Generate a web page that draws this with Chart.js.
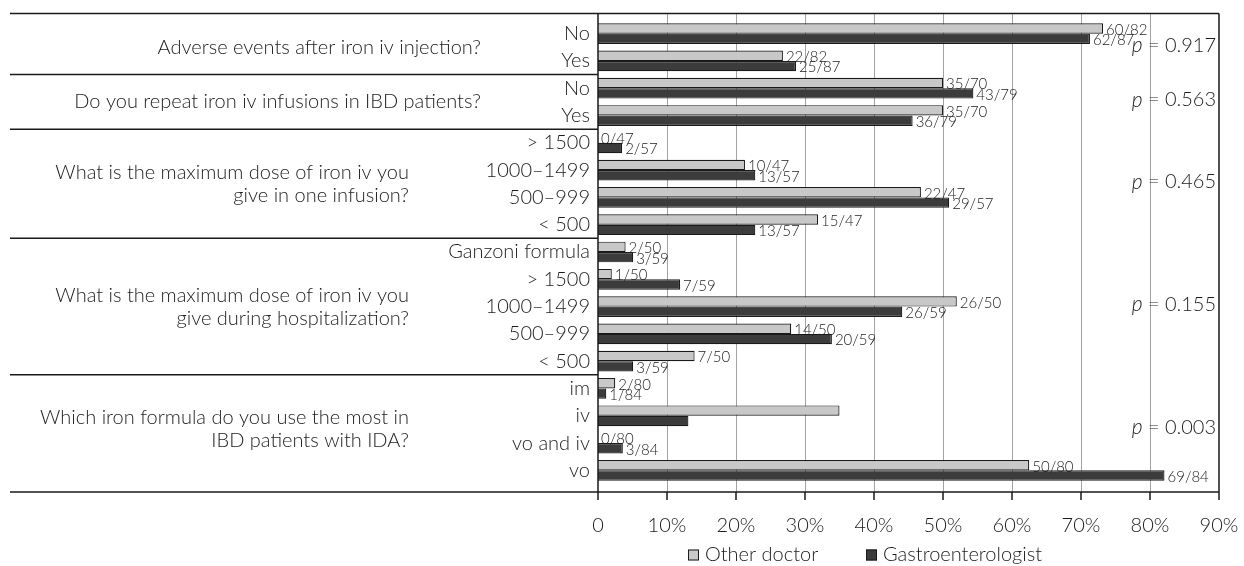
<!DOCTYPE html>
<html>
<head>
<meta charset="utf-8">
<script src="https://cdn.jsdelivr.net/npm/chart.js@4.4.1/dist/chart.umd.min.js"></script>
<style>
    html, body { margin: 0; padding: 0; background: #fff; }
    #wrap { width: 1244px; height: 566px; }
</style>
</head>
<body>
<div id="wrap"><canvas id="chart" width="1244" height="566"></canvas></div>
<script>
// answers, top to bottom
const answers = ["No", "Yes", "No", "Yes",
    "> 1500", "1000–1499", "500–999", "< 500",
    "Ganzoni formula", "> 1500", "1000–1499", "500–999", "< 500",
    "im", "iv", "vo and iv", "vo"];

const questions = [
    ["Adverse events after iron iv injection?"],
    ["Do you repeat iron iv infusions in IBD patients?"],
    ["What is the maximum dose of iron iv you", "give in one infusion?"],
    ["What is the maximum dose of iron iv you", "give during hospitalization?"],
    ["Which iron formula do you use the most in", "IBD patients with IDA?"],
];
const groupSizes = [2, 2, 4, 5, 4];

// percent of respondents
const otherDoctor = [73.2, 26.8, 50.0, 50.0, 0, 21.3, 46.8, 31.9, 4.0, 2.0, 52.0, 28.0, 14.0, 2.5, 35.0, 0, 62.5];
const gastroenterologist = [71.3, 28.7, 54.4, 45.6, 3.5, 22.8, 50.9, 22.8, 5.1, 11.9, 44.1, 33.9, 5.1, 1.2, 13.1, 3.6, 82.1];

const otherCounts = ["60/82", "22/82", "35/70", "35/70", "0/47", "10/47", "22/47", "15/47",
    "2/50", "1/50", "26/50", "14/50", "7/50", "2/80", "", "0/80", "50/80"];
const gastroCounts = ["62/87", "25/87", "43/79", "36/79", "2/57", "13/57", "29/57", "13/57",
    "3/59", "7/59", "26/59", "20/59", "3/59", "1/84", "", "3/84", "69/84"];

const pValues = ["0.917", "0.563", "0.465", "0.155", "0.003"];

const xTicks = [0, 10, 20, 30, 40, 50, 60, 70, 80, 90];
const xTickLabels = ["0", "10%", "20%", "30%", "40%", "50%", "60%", "70%", "80%", "90%"];

const FONT = "Lato, 'Open Sans', sans-serif";
const TEXT = "#1c1c1c";
const questionRight = [481, 481, 409, 409, 409]; // right edge of question text

const annotate = {
    id: "annotate",
    beforeDatasetsDraw(chart) {
        const { ctx, chartArea: a, scales: { x } } = chart;
        const top = a.top - 6.5, bot = a.bottom + 8;
        ctx.save();
        ctx.strokeStyle = "#a3a3a3";
        ctx.lineWidth = 1;
        xTicks.forEach((v) => {
            if (v === 0 || v === 90) return;
            const px = Math.round(x.getPixelForValue(v)) + 0.5;
            ctx.beginPath();
            ctx.moveTo(px, top);
            ctx.lineTo(px, bot);
            ctx.stroke();
        });
        ctx.restore();
    },
    afterDatasetsDraw(chart) {
        const { ctx, chartArea: a, scales: { x, y } } = chart;
        const top = a.top - 6.5, bot = a.bottom + 8;
        ctx.save();

        // frame, axis, tick marks
        ctx.strokeStyle = "#1a1a1a";
        ctx.lineWidth = 1.5;
        ctx.beginPath();
        ctx.moveTo(10, top); ctx.lineTo(a.right, top);
        ctx.moveTo(10, bot); ctx.lineTo(a.right, bot);
        ctx.moveTo(a.left, top); ctx.lineTo(a.left, bot + 8);
        ctx.moveTo(a.right, top); ctx.lineTo(a.right, bot + 8);
        xTicks.forEach((v) => {
            const px = x.getPixelForValue(v);
            ctx.moveTo(px, bot); ctx.lineTo(px, bot + 8);
        });
        ctx.stroke();

        // group separators + question text + p values
        let start = 0;
        groupSizes.forEach((n, g) => {
            const end = start + n - 1;
            if (g > 0) {
                const sy = (y.getPixelForValue(start - 1) + y.getPixelForValue(start)) / 2;
                ctx.beginPath();
                ctx.moveTo(10, sy); ctx.lineTo(a.left, sy);
                ctx.stroke();
            }
            const cy = (y.getPixelForValue(start) + y.getPixelForValue(end)) / 2;
            const lines = questions[g];
            ctx.fillStyle = TEXT;
            ctx.font = "300 20px " + FONT;
            ctx.textAlign = "right";
            ctx.textBaseline = "middle";
            lines.forEach((t, i) => {
                ctx.fillText(t, questionRight[g], cy + (i - (lines.length - 1) / 2) * 23);
            });

            const rest = " = " + pValues[g];
            ctx.font = "300 20px " + FONT;
            const rw = ctx.measureText(rest).width;
            ctx.fillText(rest, a.right - 3, cy - 2);
            ctx.font = "italic 300 21px " + FONT;
            ctx.fillText("p", a.right - 3 - rw, cy - 2);
            start += n;
        });

        // n/N labels at bar ends
        ctx.font = "300 15px " + FONT;
        ctx.textAlign = "left";
        ctx.textBaseline = "middle";
        ctx.fillStyle = TEXT;
        [otherCounts, gastroCounts].forEach((labels, d) => {
            chart.getDatasetMeta(d).data.forEach((bar, i) => {
                if (!labels[i]) return;
                ctx.fillText(labels[i], bar.x + 3, bar.y + 1.5);
            });
        });

        // legend
        const ly = 555;
        const items = [[688, 0], [866, 1]];
        ctx.font = "300 20px " + FONT;
        items.forEach(([lx, d]) => {
            const ds = chart.data.datasets[d];
            ctx.fillStyle = ds.backgroundColor;
            ctx.fillRect(lx, ly - 5.5, 11, 11);
            ctx.lineWidth = 1;
            ctx.strokeStyle = "#1a1a1a";
            ctx.strokeRect(lx + 0.5, ly - 5, 10, 10);
            ctx.fillStyle = TEXT;
            ctx.fillText(ds.label, lx + 17, ly);
        });
        ctx.restore();
    },
};

new Chart(document.getElementById("chart").getContext("2d"), {
    type: "bar",
    data: {
        labels: answers,
        datasets: [
            {
                label: "Other doctor",
                data: otherDoctor,
                backgroundColor: "#c8c8c8",
                borderColor: "#1a1a1a",
                borderWidth: 1.2,
            },
            {
                label: "Gastroenterologist",
                data: gastroenterologist,
                backgroundColor: "#3c3c3c",
                borderColor: "#1a1a1a",
                borderWidth: 1.2,
            },
        ],
    },
    options: {
        indexAxis: "y",
        responsive: false,
        animation: false,
        devicePixelRatio: 1,
        categoryPercentage: 0.76,
        barPercentage: 1.0,
        layout: { padding: { left: 0, top: 20, right: 25, bottom: 0 } },
        plugins: {
            legend: { display: false },
            tooltip: { enabled: false },
        },
        scales: {
            x: {
                min: 0,
                max: 90,
                grid: { display: false, drawTicks: false },
                border: { display: false },
                ticks: {
                    stepSize: 10,
                    padding: 30,
                    color: TEXT,
                    font: { family: FONT, size: 20, weight: 300 },
                    callback: (v, i) => xTickLabels[i],
                },
                afterFit: (scale) => {
                    scale.height = 82;
                    scale.paddingLeft = 0;
                    scale.paddingRight = 0;
                },
            },
            y: {
                grid: { display: false, drawTicks: false },
                border: { display: false },
                ticks: {
                    padding: 8,
                    color: TEXT,
                    font: { family: FONT, size: 20, weight: 300 },
                    autoSkip: false,
                },
                afterFit: (scale) => {
                    scale.width = 598;
                    scale.paddingTop = 0;
                    scale.paddingBottom = 0;
                },
            },
        },
    },
    plugins: [annotate],
});
</script>
</body>
</html>
